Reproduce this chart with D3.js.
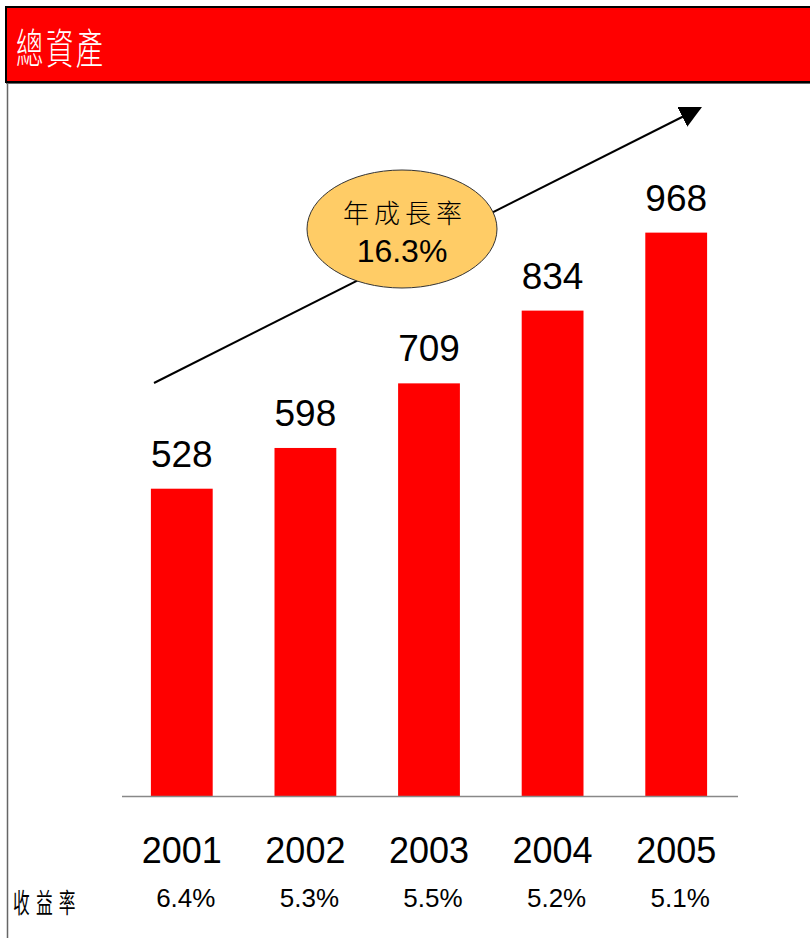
<!DOCTYPE html>
<html>
<head>
<meta charset="utf-8">
<script src="https://cdn.jsdelivr.net/npm/d3@7"></script>
<style>
  body { margin: 0; background: #fff; }
  text { font-family: Arial, "Liberation Sans", sans-serif; }
</style>
</head>
<body>
<div id="chart"></div>
<script>
// data
var years = ["2001", "2002", "2003", "2004", "2005"];
var totalAssets = [528, 598, 709, 834, 968];
var yields = ["6.4%", "5.3%", "5.5%", "5.2%", "5.1%"];
var title = "總資產";
var yieldLabel = "收益率";
var growthLabel = ["年成長率", "16.3%"];

var W = 810, H = 938;
var baseline = 796;
var cjk = "'Noto Sans CJK TC', sans-serif";

var svg = d3.select("#chart")
  .append("svg")
    .attr("width", W)
    .attr("height", H);

// header band
svg.append("rect")
  .attr("x", 6).attr("y", 7)
  .attr("width", W).attr("height", 75)
  .attr("fill", "#ff0000")
  .attr("stroke", "#000")
  .attr("stroke-width", 2);

// title, narrow tall glyphs like the original
svg.append("text")
  .attr("transform", "translate(16,64) scale(0.65,1)")
  .attr("fill", "#fff")
  .style("font-family", cjk)
  .style("font-weight", 300)
  .style("font-size", "42px")
  .style("letter-spacing", "4px")
  .text(title);

// grey frame lines
svg.append("line")
  .attr("x1", 7.5).attr("x2", 7.5)
  .attr("y1", 83).attr("y2", H)
  .attr("stroke", "#666")
  .attr("stroke-width", 1.5);
svg.append("line")
  .attr("x1", 6).attr("x2", W)
  .attr("y1", 83.5).attr("y2", 83.5)
  .attr("stroke", "#666")
  .attr("stroke-width", 1);

// scales
var x = d3.scaleBand()
  .domain(years)
  .range([120, 738])
  .paddingInner(0.5)
  .paddingOuter(0.25);

var y = d3.scaleLinear()
  .domain([0, 1000])
  .range([baseline, baseline - 582]);

// bars
svg.selectAll("rect.bar")
  .data(years)
  .enter()
  .append("rect")
    .attr("class", "bar")
    .attr("x", function(d) { return x(d); })
    .attr("y", function(d, i) { return y(totalAssets[i]); })
    .attr("width", x.bandwidth())
    .attr("height", function(d, i) { return baseline - y(totalAssets[i]); })
    .attr("fill", "#ff0000");

// value labels
svg.selectAll("text.val")
  .data(years)
  .enter()
  .append("text")
    .attr("class", "val")
    .attr("x", function(d) { return x(d) + x.bandwidth() / 2; })
    .attr("y", function(d, i) { return y(totalAssets[i]) - 22; })
    .attr("text-anchor", "middle")
    .style("font-size", "37px")
    .text(function(d, i) { return totalAssets[i]; });

// baseline axis
svg.append("line")
  .attr("x1", 122).attr("x2", 738)
  .attr("y1", baseline + 0.5).attr("y2", baseline + 0.5)
  .attr("stroke", "#888")
  .attr("stroke-width", 1.5);

// year labels
svg.selectAll("text.year")
  .data(years)
  .enter()
  .append("text")
    .attr("class", "year")
    .attr("x", function(d) { return x(d) + x.bandwidth() / 2; })
    .attr("y", 863)
    .attr("text-anchor", "middle")
    .style("font-size", "36px")
    .text(function(d) { return d; });

// yields row
svg.append("text")
  .attr("transform", "translate(13,913) scale(0.62,1)")
  .style("font-family", cjk)
  .style("font-size", "27px")
  .style("letter-spacing", "10px")
  .text(yieldLabel);

svg.selectAll("text.yield")
  .data(years)
  .enter()
  .append("text")
    .attr("class", "yield")
    .attr("x", function(d) { return x(d) + x.bandwidth() / 2 + 4; })
    .attr("y", 907)
    .attr("text-anchor", "middle")
    .style("font-size", "26px")
    .text(function(d, i) { return yields[i]; });

// growth arrow
svg.append("defs").append("marker")
  .attr("id", "arrow")
  .attr("viewBox", "0 0 10 10")
  .attr("refX", 9).attr("refY", 5)
  .attr("markerWidth", 22).attr("markerHeight", 22)
  .attr("markerUnits", "userSpaceOnUse")
  .attr("orient", "auto")
  .append("path")
    .attr("d", "M0,0 L10,5 L0,10 z")
    .attr("fill", "#000");

svg.append("line")
  .attr("x1", 154).attr("y1", 383)
  .attr("x2", 700).attr("y2", 108)
  .attr("stroke", "#000")
  .attr("stroke-width", 2)
  .attr("marker-end", "url(#arrow)");

// growth ellipse
svg.append("ellipse")
  .attr("cx", 402).attr("cy", 229)
  .attr("rx", 95).attr("ry", 59)
  .attr("fill", "#ffcc66")
  .attr("stroke", "#333")
  .attr("stroke-width", 1);

svg.append("text")
  .attr("x", 405).attr("y", 223)
  .attr("text-anchor", "middle")
  .style("font-family", cjk)
  .style("font-weight", 300)
  .style("font-size", "26px")
  .style("letter-spacing", "5px")
  .text(growthLabel[0]);

svg.append("text")
  .attr("x", 402).attr("y", 262)
  .attr("text-anchor", "middle")
  .style("font-size", "32px")
  .text(growthLabel[1]);
</script>
</body>
</html>
